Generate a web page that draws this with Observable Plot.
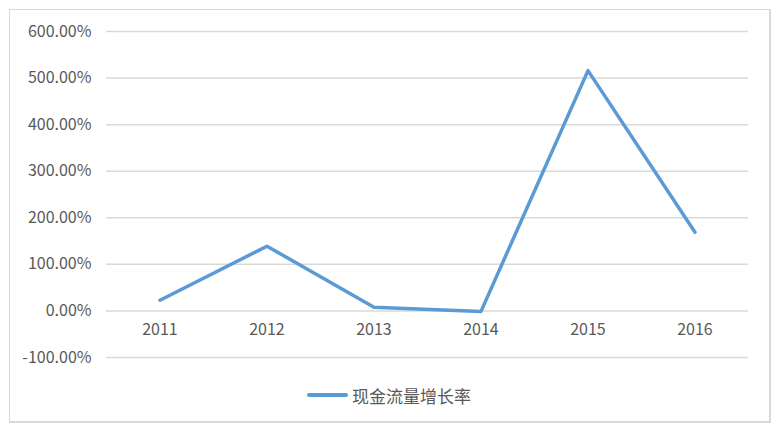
<!DOCTYPE html>
<html><head><meta charset="utf-8">
<script src="https://cdn.jsdelivr.net/npm/d3@7"></script>
<script src="https://cdn.jsdelivr.net/npm/@observablehq/plot@0.6"></script>
<style>
body{margin:0;background:#fff;font-family:"Noto Sans CJK SC","Noto Sans",sans-serif;}
#wrap{position:relative;width:772px;height:430px;}
#frame{position:absolute;left:9px;top:9px;width:759px;height:411px;border:1px solid #d9d9d9;border-right-width:2px;border-bottom-width:2px;pointer-events:none;}
#chart{position:absolute;left:0;top:0;}
#legend{position:absolute;left:307px;top:383px;height:24px;display:flex;align-items:center;color:#595959;font-size:17px;}
#legend .sw{display:inline-block;width:41px;height:4px;background:#5b9bd5;border-radius:2px;margin-right:4px;}
</style></head>
<body>
<div id="wrap"><div id="chart"></div><div id="legend"><span class="sw"></span><span id="lt"></span></div><div id="frame"></div></div>
<script>
const years = ["2011","2012","2013","2014","2015","2016"];
const growth = [23, 139, 8, -1, 516, 169];
const yTicks = [-100, 0, 100, 200, 300, 400, 500, 600];
const seriesName = "现金流量增长率";

const data = years.map((y, i) => ({year: y, value: growth[i]}));
document.getElementById("lt").textContent = seriesName;

const chart = Plot.plot({
  width: 772,
  height: 372,
  marginLeft: 106,
  marginRight: 24,
  marginTop: 31,
  marginBottom: 15,
  style: {fontFamily: '"Noto Sans CJK SC","Noto Sans",sans-serif', fontSize: "16px", color: "#595959", background: "transparent"},
  x: {type: "band", domain: years, padding: 0, axis: null},
  y: {domain: [-100, 600], ticks: yTicks},
  marks: [
    Plot.gridY(yTicks, {stroke: "#d9d9d9", strokeOpacity: 1, strokeWidth: 1.5}),
    Plot.axisY(yTicks, {tickSize: 0, tickPadding: 15, tickFormat: d => d.toFixed(2) + "%", fill: "#595959", fontSize: 16, label: null}),
    Plot.text(years, {x: d => d, y: () => 0, dy: 19, fill: "#595959", fontSize: 16}),
    Plot.line(data, {x: "year", y: "value", stroke: "#5b9bd5", strokeWidth: 3.5, strokeLinejoin: "round", strokeLinecap: "round"})
  ]
});
document.getElementById("chart").appendChild(chart);
</script>
</body></html>
